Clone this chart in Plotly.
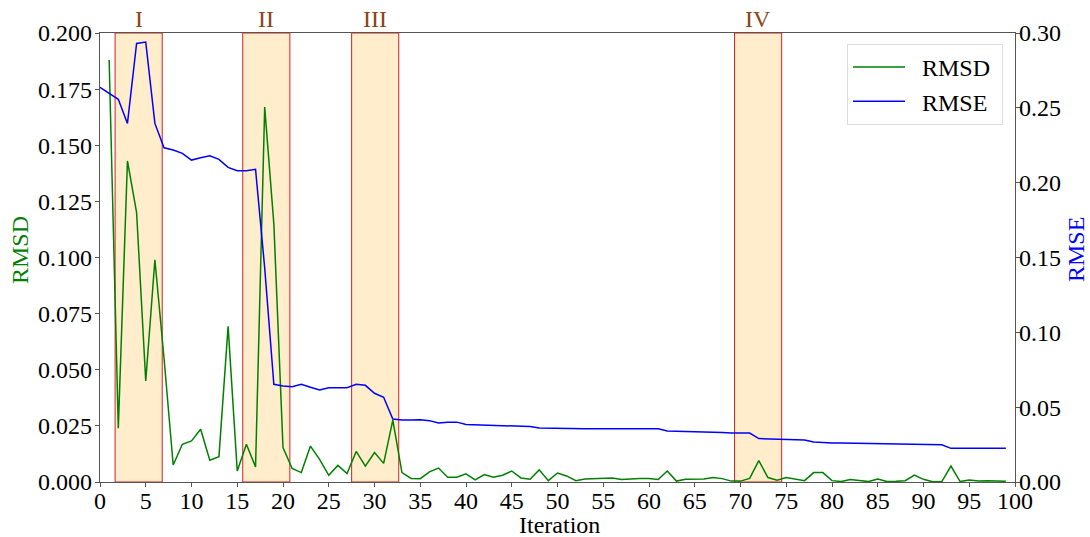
import plotly.graph_objects as go

# ---- data ----
rmsd_x = list(range(1, 100))
rmsd = [0.188, 0.024, 0.143, 0.120, 0.045, 0.099, 0.055, 0.0076, 0.0168, 0.0183,
        0.0235, 0.0097, 0.0113, 0.0693, 0.0049, 0.0168, 0.0067, 0.167, 0.115, 0.0153,
        0.006, 0.0042, 0.016, 0.0101, 0.003, 0.0074, 0.0038, 0.0136, 0.0071, 0.0131,
        0.0083, 0.0276, 0.0042, 0.0016, 0.0015, 0.0045, 0.0062, 0.0021, 0.0021, 0.0036,
        0.0009, 0.0033, 0.0021, 0.003, 0.0049, 0.0018, 0.0012, 0.0054, 0.0006, 0.004,
        0.0027, 0.0006, 0.0013, 0.0015, 0.0016, 0.0018, 0.0011, 0.0015, 0.0016, 0.0016,
        0.0011, 0.0049, 0.0004, 0.0012, 0.0013, 0.0013, 0.002, 0.0015, 0.0004, 0.0004,
        0.0016, 0.0095, 0.002, 0.0008, 0.002, 0.0012, 0.0006, 0.0042, 0.0042, 0.0006,
        0.0002, 0.0011, 0.0006, 0.0002, 0.0013, 0.0002, 0.0003, 0.0006, 0.0031, 0.0012,
        0.0001, 0.0002, 0.0071, 0.0002, 0.0009, 0.0004, 0.0006, 0.0004, 0.0003]

rmse_x = list(range(0, 100))
rmse = [0.2637, 0.2597, 0.2557, 0.2396, 0.293, 0.2939, 0.2396, 0.2233, 0.2218, 0.2196,
        0.2151, 0.2166, 0.218, 0.2156, 0.2102, 0.208, 0.208, 0.2089, 0.143, 0.0653,
        0.0641, 0.0637, 0.0653, 0.0633, 0.0615, 0.063, 0.063, 0.063, 0.0653, 0.0646,
        0.0593, 0.0566, 0.0421, 0.0414, 0.0414, 0.0416, 0.041, 0.0394, 0.040, 0.040,
        0.0385, 0.0383, 0.0381, 0.0379, 0.0379, 0.0372, 0.0370, 0.0370, 0.0361, 0.0359,
        0.0359, 0.0357, 0.0357, 0.0356, 0.0356, 0.0355, 0.0356, 0.0356, 0.0355, 0.0356,
        0.0356, 0.0356, 0.0341, 0.034, 0.0336, 0.0336, 0.0336, 0.0333, 0.0330, 0.0327,
        0.0327, 0.0327, 0.029, 0.0288, 0.0285, 0.0283, 0.0282, 0.0281, 0.0267, 0.0261,
        0.026, 0.026, 0.0259, 0.0259, 0.0259, 0.0258, 0.0258, 0.0258, 0.0258, 0.0254,
        0.0252, 0.0252, 0.0249, 0.0225, 0.0225, 0.0225, 0.0225, 0.0225, 0.0225, 0.0225]

region_labels = ["I", "II", "III", "IV"]
region_start = [1.65, 15.6, 27.5, 69.35]
region_end = [6.8, 20.75, 32.65, 74.5]

left_ticks = [0.0, 0.025, 0.05, 0.075, 0.1, 0.125, 0.15, 0.175, 0.2]
right_ticks = [0.0, 0.05, 0.1, 0.15, 0.2, 0.25, 0.3]
x_ticks = list(range(0, 101, 5))

FONT = "'Liberation Serif', 'Times New Roman', serif"
AXIS_COLOR = "#555555"

# body margin is removed by the post_script below, so paper px == screen px
W, H = 1090, 537
ML, MT = 100, 33
MR = W - 1015
MB = H - 482
PW, PH = W - ML - MR, H - MT - MB


def px_x(px):  # screen px -> paper fraction
    return (px - ML) / PW


def px_y(py):
    return (H - MB - py) / PH


fig = go.Figure()

fig.add_trace(go.Scatter(x=rmsd_x, y=rmsd, mode="lines", name="\u00a0\u00a0RMSD\u00a0",
                         line=dict(color="green", width=1.5), yaxis="y"))
fig.add_trace(go.Scatter(x=rmse_x, y=rmse, mode="lines", name="\u00a0\u00a0RMSE\u00a0",
                         line=dict(color="blue", width=1.5), yaxis="y2"))

for lab, x0, x1 in zip(region_labels, region_start, region_end):
    fig.add_shape(type="rect", xref="x", yref="paper", x0=x0, x1=x1, y0=0, y1=1,
                  fillcolor="rgba(255,165,0,0.2)", line=dict(color="#d62020", width=1),
                  layer="below")
    fig.add_annotation(x=(x0 + x1) / 2, y=px_y(19), xref="x", yref="paper", text=lab,
                       showarrow=False, yanchor="middle",
                       font=dict(family=FONT, size=24, color="#8B4513"))

fig.add_annotation(x=px_x(20), y=px_y(250), xref="paper", yref="paper", text="RMSD",
                   textangle=-90, showarrow=False, xanchor="center", yanchor="middle",
                   font=dict(family=FONT, size=24, color="green"))
fig.add_annotation(x=px_x(1076), y=px_y(250), xref="paper", yref="paper", text="RMSE",
                   textangle=-90, showarrow=False, xanchor="center", yanchor="middle",
                   font=dict(family=FONT, size=24, color="blue"))
fig.add_annotation(x=px_x(559), y=px_y(525), xref="paper", yref="paper", text="Iteration",
                   showarrow=False, xanchor="center", yanchor="middle",
                   font=dict(family=FONT, size=24, color="black"))

fig.update_layout(
    width=W, height=H,
    margin=dict(l=ML, r=MR, t=MT, b=MB, autoexpand=False),
    plot_bgcolor="white", paper_bgcolor="white",
    font=dict(family=FONT, size=24, color="black"),
    showlegend=True,
    legend=dict(x=px_x(1003), y=px_y(44), xanchor="right", yanchor="top",
                bgcolor="rgba(255,255,255,0.8)", bordercolor="#dddddd", borderwidth=1,
                itemwidth=52,
                font=dict(family=FONT, size=24, color="black")),
    xaxis=dict(range=[0, 100], tickvals=x_ticks, showgrid=False, zeroline=False,
               showline=True, linecolor=AXIS_COLOR, linewidth=1.2, mirror=True,
               ticks="outside", ticklen=4, tickcolor=AXIS_COLOR, automargin=False,
               ticklabelstandoff=-7),
    yaxis=dict(range=[0, 0.2], tickvals=left_ticks, tickformat=".3f", showgrid=False,
               zeroline=False, showline=True, linecolor=AXIS_COLOR, linewidth=1.2,
               ticks="outside", ticklen=4, tickcolor=AXIS_COLOR, automargin=False,
               ticklabelstandoff=-2),
    yaxis2=dict(range=[0, 0.3], tickvals=right_ticks, tickformat=".2f", overlaying="y",
                side="right", showgrid=False, zeroline=False, showline=True,
                linecolor=AXIS_COLOR, linewidth=1.2, ticks="outside", ticklen=4,
                tickcolor=AXIS_COLOR, automargin=False, ticklabelstandoff=-6),
)

fig.write_html("out.html",
               config={"displayModeBar": False},
               post_script="document.body.style.margin='0px';"
                           "document.body.style.overflow='hidden';")
